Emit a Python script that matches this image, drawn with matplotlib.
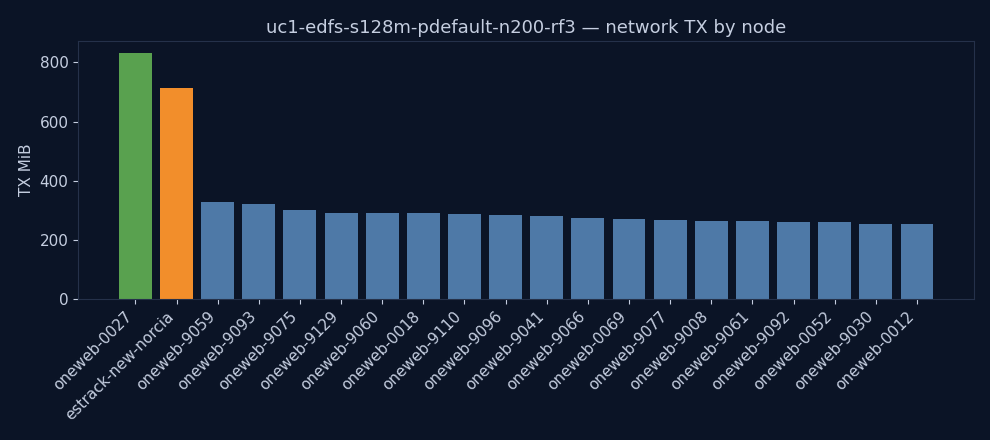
import matplotlib
matplotlib.use("Agg")
import matplotlib.pyplot as plt

nodes = ["oneweb-0027", "estrack-new-norcia", "oneweb-9059", "oneweb-9093",
         "oneweb-9075", "oneweb-9129", "oneweb-9060", "oneweb-0018",
         "oneweb-9110", "oneweb-9096", "oneweb-9041", "oneweb-9066",
         "oneweb-0069", "oneweb-9077", "oneweb-9008", "oneweb-9061",
         "oneweb-9092", "oneweb-0052", "oneweb-9030", "oneweb-0012"]
tx_mib = [831, 713, 327, 320, 300, 290, 290, 290, 287, 283,
          280, 273, 270, 266, 263, 263, 260, 260, 253, 253]

bg = "#0b1426"
fg = "#c5cee0"
edge = "#25314a"

colors = ["#59a14f", "#f28e2b"] + ["#4e79a7"] * (len(nodes) - 2)

fig, ax = plt.subplots(figsize=(9.9, 4.4), dpi=100)
fig.patch.set_facecolor(bg)
ax.set_facecolor(bg)

ax.bar(range(len(nodes)), tx_mib, color=colors, width=0.8)
ax.set_xticks(range(len(nodes)))
ax.set_xticklabels(nodes, rotation=45, ha="right")
ax.set_ylabel("TX MiB", color=fg, fontsize=11)
ax.set_title("uc1-edfs-s128m-pdefault-n200-rf3 \u2014 network TX by node",
             color=fg, fontsize=13)

ax.tick_params(colors=fg, labelsize=11)
for s in ax.spines.values():
    s.set_color(edge)

plt.subplots_adjust(left=0.079, right=0.984, top=0.907, bottom=0.32)
plt.savefig("out.png", facecolor=bg)
